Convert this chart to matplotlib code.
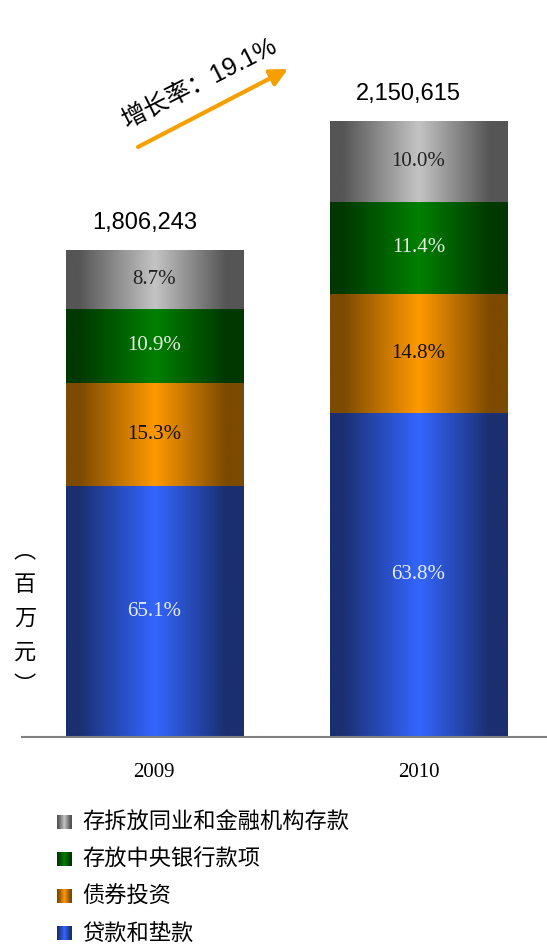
import numpy as np
import matplotlib.pyplot as plt
from matplotlib.colors import LinearSegmentedColormap

plt.rcParams['font.family'] = ['Liberation Sans', 'Noto Sans CJK SC', 'DejaVu Sans']

years = ['2009', '2010']
totals = [1806243, 2150615]
# share of each component in the total (%), bottom to top
series = ['贷款和垫款', '债券投资', '存放中央银行款项', '存拆放同业和金融机构存款']
shares = {
    '贷款和垫款': [65.1, 63.8],
    '债券投资': [15.3, 14.8],
    '存放中央银行款项': [10.9, 11.4],
    '存拆放同业和金融机构存款': [8.7, 10.0],
}
growth = 19.1

# edge / highlight colours for the cylinder-like shading, plus label colour
shade = {
    '贷款和垫款': ('#1b2f70', '#3366ff', '#e8ecff'),
    '债券投资': ('#7c4a00', '#ff9900', '#111111'),
    '存放中央银行款项': ('#003800', '#008000', '#e6f0e6'),
    '存拆放同业和金融机构存款': ('#555555', '#c4c4c4', '#222222'),
}


def make_cmap(dark, bright):
    stops = [(0.0, dark), (0.07, dark), (0.5, bright), (0.9, dark), (1.0, dark)]
    return LinearSegmentedColormap.from_list('shade', stops)


grad = np.linspace(0, 1, 256).reshape(1, -1)

fig = plt.figure(figsize=(5.47, 9.46), dpi=100)
ax = fig.add_axes([22 / 547, 209 / 946, 525 / 547, 707 / 946])
ymin, ymax = 505000, 2395000

x = np.arange(len(years))
width = 0.67
bottom = np.zeros(len(years))
for name in series:
    vals = np.array(shares[name]) / 100 * np.array(totals)
    bars = ax.bar(x, vals, width, bottom=bottom, color='none', edgecolor='none')
    dark, bright, txt = shade[name]
    cmap = make_cmap(dark, bright)
    for i, b in enumerate(bars):
        x0, y0 = b.get_x(), b.get_y()
        y1 = y0 + b.get_height()
        ax.imshow(grad, cmap=cmap, aspect='auto', zorder=2,
                  extent=(x0, x0 + b.get_width(), y0, y1))
        ymid = (max(y0, ymin) + y1) / 2
        ax.text(x[i], ymid, f'{shares[name][i]:.1f}%',
                ha='center', va='center', color=txt, fontsize=15,
                family='Liberation Serif', zorder=3)
    bottom += vals

for i, t in enumerate(totals):
    ax.annotate(f'{t:,}', (x[i], t), xytext=(-7, 12), textcoords='offset points',
                ha='center', va='bottom', fontsize=17)

ax.set_xlim(-0.5, 1.486)
ax.set_ylim(ymin, ymax)
ax.set_xticks(x)
ax.set_xticklabels(years, family='Liberation Serif', fontsize=15)
ax.tick_params(length=0, pad=19)
ax.set_yticks([])
for s in ['top', 'left', 'right']:
    ax.spines[s].set_visible(False)
ax.spines['bottom'].set_color('#808080')
ax.spines['bottom'].set_linewidth(1.5)
ax.spines['bottom'].set_zorder(4)

# unit label written vertically
fig.text(25 / 547, 1 - 618 / 946, '︵\n百\n万\n元\n︶', ha='center', va='center',
         fontsize=16, linespacing=1.6, family=['Noto Sans CJK SC'])

# growth arrow
ax.annotate('', xy=(288 / 547, 1 - 69 / 946), xytext=(138 / 547, 1 - 147 / 946),
            xycoords='figure fraction', textcoords='figure fraction',
            arrowprops=dict(arrowstyle='-|>', color='#f5a000', lw=3,
                            mutation_scale=26, shrinkA=0, shrinkB=0))
fig.text(200 / 547, 1 - 83 / 946, f'增长率：{growth}%', rotation=27,
         rotation_mode='anchor', ha='center', va='center', fontsize=18)

# legend, top entry first
for k, name in enumerate(series[::-1]):
    yc = 822 + k * 37
    lax = fig.add_axes([57 / 547, 1 - (yc + 7) / 946, 14 / 547, 14 / 946])
    dark, bright, _ = shade[name]
    lax.imshow(grad, cmap=make_cmap(dark, bright), aspect='auto')
    lax.axis('off')
    fig.text(82 / 547, 1 - yc / 946, name, ha='left', va='center',
             fontsize=16, family=['Noto Sans CJK SC'])

fig.savefig('out.png', dpi=100)
